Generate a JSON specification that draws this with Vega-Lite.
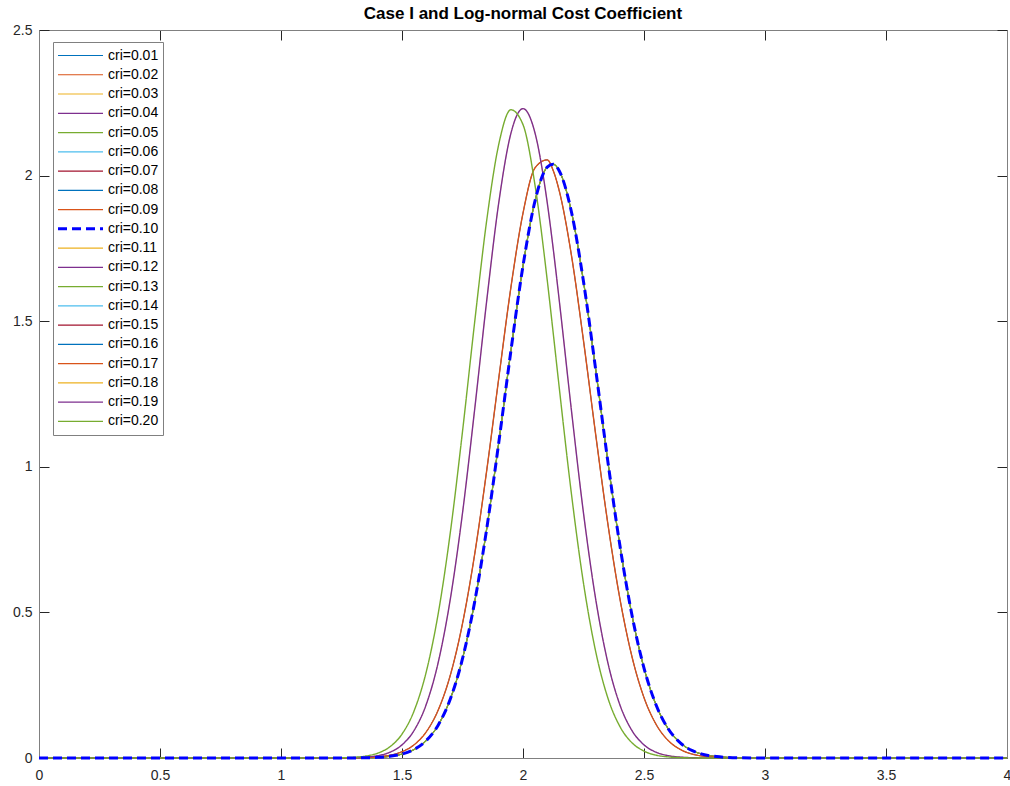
{
  "$schema": "https://vega.github.io/schema/vega-lite/v6.json",
  "width": 968,
  "height": 728,
  "autosize": {"type": "none"},
  "padding": {"left": 39, "top": 30, "right": 3, "bottom": 28},
  "background": "white",
  "title": {"text": "Case I and Log-normal Cost Coefficient", "fontSize": 17, "fontWeight": "bold", "font": "Liberation Sans", "color": "#000000", "anchor": "middle", "offset": 0},
  "data": {"values": [
    {"x":0,"c01":0,"c02":0,"c03":0,"c04":0,"c05":0,"c06":0,"c07":0,"c08":0,"c09":0,"c10":0,"c11":0,"c12":0,"c13":0,"c14":0,"c15":0,"c16":0,"c17":0,"c18":0,"c19":0,"c20":0},
    {"x":1.2,"c01":0,"c02":0,"c03":0,"c04":0,"c05":0,"c06":0,"c07":0,"c08":0,"c09":0,"c10":0,"c11":0,"c12":0,"c13":0,"c14":0.0001,"c15":0.0001,"c16":0.0001,"c17":0.0001,"c18":0.0001,"c19":0.0001,"c20":0.0003},
    {"x":1.25,"c01":0.0001,"c02":0.0001,"c03":0.0001,"c04":0.0001,"c05":0.0001,"c06":0.0001,"c07":0.0001,"c08":0.0001,"c09":0.0001,"c10":0.0001,"c11":0.0001,"c12":0.0001,"c13":0.0001,"c14":0.0002,"c15":0.0002,"c16":0.0002,"c17":0.0002,"c18":0.0003,"c19":0.0003,"c20":0.0009},
    {"x":1.3,"c01":0.0003,"c02":0.0003,"c03":0.0003,"c04":0.0003,"c05":0.0003,"c06":0.0003,"c07":0.0003,"c08":0.0003,"c09":0.0003,"c10":0.0003,"c11":0.0003,"c12":0.0003,"c13":0.0003,"c14":0.0006,"c15":0.0006,"c16":0.0006,"c17":0.0006,"c18":0.0011,"c19":0.0011,"c20":0.0025},
    {"x":1.35,"c01":0.0009,"c02":0.0009,"c03":0.0009,"c04":0.0009,"c05":0.0009,"c06":0.0009,"c07":0.0009,"c08":0.0009,"c09":0.0009,"c10":0.0009,"c11":0.0009,"c12":0.0009,"c13":0.0009,"c14":0.0015,"c15":0.0015,"c16":0.0015,"c17":0.0015,"c18":0.0031,"c19":0.0031,"c20":0.0067},
    {"x":1.4,"c01":0.0023,"c02":0.0023,"c03":0.0023,"c04":0.0023,"c05":0.0023,"c06":0.0023,"c07":0.0023,"c08":0.0023,"c09":0.0023,"c10":0.0023,"c11":0.0023,"c12":0.0023,"c13":0.0023,"c14":0.004,"c15":0.004,"c16":0.004,"c17":0.004,"c18":0.0081,"c19":0.0081,"c20":0.0167},
    {"x":1.45,"c01":0.0058,"c02":0.0058,"c03":0.0058,"c04":0.0058,"c05":0.0058,"c06":0.0058,"c07":0.0058,"c08":0.0058,"c09":0.0058,"c10":0.0058,"c11":0.0058,"c12":0.0058,"c13":0.0058,"c14":0.0096,"c15":0.0096,"c16":0.0096,"c17":0.0096,"c18":0.0198,"c19":0.0198,"c20":0.0385},
    {"x":1.5,"c01":0.0134,"c02":0.0134,"c03":0.0134,"c04":0.0134,"c05":0.0134,"c06":0.0134,"c07":0.0134,"c08":0.0134,"c09":0.0134,"c10":0.0134,"c11":0.0134,"c12":0.0134,"c13":0.0134,"c14":0.0216,"c15":0.0216,"c16":0.0216,"c17":0.0216,"c18":0.0451,"c19":0.0451,"c20":0.0821},
    {"x":1.55,"c01":0.0292,"c02":0.0292,"c03":0.0292,"c04":0.0292,"c05":0.0292,"c06":0.0292,"c07":0.0292,"c08":0.0292,"c09":0.0292,"c10":0.0292,"c11":0.0292,"c12":0.0292,"c13":0.0292,"c14":0.0454,"c15":0.0454,"c16":0.0454,"c17":0.0454,"c18":0.0946,"c19":0.0946,"c20":0.1619},
    {"x":1.6,"c01":0.0596,"c02":0.0596,"c03":0.0596,"c04":0.0596,"c05":0.0596,"c06":0.0596,"c07":0.0596,"c08":0.0596,"c09":0.0596,"c10":0.0596,"c11":0.0596,"c12":0.0596,"c13":0.0596,"c14":0.0896,"c15":0.0896,"c16":0.0896,"c17":0.0896,"c18":0.1835,"c19":0.1835,"c20":0.2951},
    {"x":1.65,"c01":0.1137,"c02":0.1137,"c03":0.1137,"c04":0.1137,"c05":0.1137,"c06":0.1137,"c07":0.1137,"c08":0.1137,"c09":0.1137,"c10":0.1137,"c11":0.1137,"c12":0.1137,"c13":0.1137,"c14":0.1654,"c15":0.1654,"c16":0.1654,"c17":0.1654,"c18":0.3296,"c19":0.3296,"c20":0.4977},
    {"x":1.7,"c01":0.2035,"c02":0.2035,"c03":0.2035,"c04":0.2035,"c05":0.2035,"c06":0.2035,"c07":0.2035,"c08":0.2035,"c09":0.2035,"c10":0.2035,"c11":0.2035,"c12":0.2035,"c13":0.2035,"c14":0.2855,"c15":0.2855,"c16":0.2855,"c17":0.2855,"c18":0.5475,"c19":0.5475,"c20":0.7765},
    {"x":1.75,"c01":0.341,"c02":0.341,"c03":0.341,"c04":0.341,"c05":0.341,"c06":0.341,"c07":0.341,"c08":0.341,"c09":0.341,"c10":0.341,"c11":0.341,"c12":0.341,"c13":0.341,"c14":0.4617,"c15":0.4617,"c16":0.4617,"c17":0.4617,"c18":0.841,"c19":0.841,"c20":1.121},
    {"x":1.8,"c01":0.535,"c02":0.535,"c03":0.535,"c04":0.535,"c05":0.535,"c06":0.535,"c07":0.535,"c08":0.535,"c09":0.535,"c10":0.535,"c11":0.535,"c12":0.535,"c13":0.535,"c14":0.698,"c15":0.698,"c16":0.698,"c17":0.698,"c18":1.195,"c19":1.195,"c20":1.495},
    {"x":1.85,"c01":0.787,"c02":0.787,"c03":0.787,"c04":0.787,"c05":0.787,"c06":0.787,"c07":0.787,"c08":0.787,"c09":0.787,"c10":0.787,"c11":0.787,"c12":0.787,"c13":0.787,"c14":0.987,"c15":0.987,"c16":0.987,"c17":0.987,"c18":1.57,"c19":1.57,"c20":1.846},
    {"x":1.9,"c01":1.084,"c02":1.084,"c03":1.084,"c04":1.084,"c05":1.084,"c06":1.084,"c07":1.084,"c08":1.084,"c09":1.084,"c10":1.084,"c11":1.084,"c12":1.084,"c13":1.084,"c14":1.305,"c15":1.305,"c16":1.305,"c17":1.305,"c18":1.908,"c19":1.908,"c20":2.108},
    {"x":1.95,"c01":1.398,"c02":1.398,"c03":1.398,"c04":1.398,"c05":1.398,"c06":1.398,"c07":1.398,"c08":1.398,"c09":1.398,"c10":1.398,"c11":1.398,"c12":1.398,"c13":1.398,"c14":1.616,"c15":1.616,"c16":1.616,"c17":1.616,"c18":2.145,"c19":2.145,"c20":2.226},
    {"x":2,"c01":1.69,"c02":1.69,"c03":1.69,"c04":1.69,"c05":1.69,"c06":1.69,"c07":1.69,"c08":1.69,"c09":1.69,"c10":1.69,"c11":1.69,"c12":1.69,"c13":1.69,"c14":1.871,"c15":1.871,"c16":1.871,"c17":1.871,"c18":2.23,"c19":2.23,"c20":2.175},
    {"x":2.05,"c01":1.914,"c02":1.914,"c03":1.914,"c04":1.914,"c05":1.914,"c06":1.914,"c07":1.914,"c08":1.914,"c09":1.914,"c10":1.914,"c11":1.914,"c12":1.914,"c13":1.914,"c14":2.027,"c15":2.027,"c16":2.027,"c17":2.027,"c18":2.145,"c19":2.145,"c20":1.965},
    {"x":2.1,"c01":2.029,"c02":2.029,"c03":2.029,"c04":2.029,"c05":2.029,"c06":2.029,"c07":2.029,"c08":2.029,"c09":2.029,"c10":2.029,"c11":2.029,"c12":2.029,"c13":2.029,"c14":2.054,"c15":2.054,"c16":2.054,"c17":2.054,"c18":1.908,"c19":1.908,"c20":1.642},
    {"x":2.125,"c01":2.039,"c02":2.039,"c03":2.039,"c04":2.039,"c05":2.039,"c06":2.039,"c07":2.039,"c08":2.039,"c09":2.039,"c10":2.039,"c11":2.039,"c12":2.039,"c13":2.039,"c14":2.017,"c15":2.017,"c16":2.017,"c17":2.017,"c18":1.748,"c19":1.748,"c20":1.458},
    {"x":2.15,"c01":2.016,"c02":2.016,"c03":2.016,"c04":2.016,"c05":2.016,"c06":2.016,"c07":2.016,"c08":2.016,"c09":2.016,"c10":2.016,"c11":2.016,"c12":2.016,"c13":2.016,"c14":1.947,"c15":1.947,"c16":1.947,"c17":1.947,"c18":1.57,"c19":1.57,"c20":1.27},
    {"x":2.2,"c01":1.876,"c02":1.876,"c03":1.876,"c04":1.876,"c05":1.876,"c06":1.876,"c07":1.876,"c08":1.876,"c09":1.876,"c10":1.876,"c11":1.876,"c12":1.876,"c13":1.876,"c14":1.727,"c15":1.727,"c16":1.727,"c17":1.727,"c18":1.195,"c19":1.195,"c20":0.908},
    {"x":2.25,"c01":1.636,"c02":1.636,"c03":1.636,"c04":1.636,"c05":1.636,"c06":1.636,"c07":1.636,"c08":1.636,"c09":1.636,"c10":1.636,"c11":1.636,"c12":1.636,"c13":1.636,"c14":1.433,"c15":1.433,"c16":1.433,"c17":1.433,"c18":0.841,"c19":0.841,"c20":0.6},
    {"x":2.3,"c01":1.336,"c02":1.336,"c03":1.336,"c04":1.336,"c05":1.336,"c06":1.336,"c07":1.336,"c08":1.336,"c09":1.336,"c10":1.336,"c11":1.336,"c12":1.336,"c13":1.336,"c14":1.113,"c15":1.113,"c16":1.113,"c17":1.113,"c18":0.5475,"c19":0.5475,"c20":0.367},
    {"x":2.35,"c01":1.022,"c02":1.022,"c03":1.022,"c04":1.022,"c05":1.022,"c06":1.022,"c07":1.022,"c08":1.022,"c09":1.022,"c10":1.022,"c11":1.022,"c12":1.022,"c13":1.022,"c14":0.808,"c15":0.808,"c16":0.808,"c17":0.808,"c18":0.3296,"c19":0.3296,"c20":0.2078},
    {"x":2.4,"c01":0.732,"c02":0.732,"c03":0.732,"c04":0.732,"c05":0.732,"c06":0.732,"c07":0.732,"c08":0.732,"c09":0.732,"c10":0.732,"c11":0.732,"c12":0.732,"c13":0.732,"c14":0.549,"c15":0.549,"c16":0.549,"c17":0.549,"c18":0.1835,"c19":0.1835,"c20":0.1087},
    {"x":2.45,"c01":0.492,"c02":0.492,"c03":0.492,"c04":0.492,"c05":0.492,"c06":0.492,"c07":0.492,"c08":0.492,"c09":0.492,"c10":0.492,"c11":0.492,"c12":0.492,"c13":0.492,"c14":0.349,"c15":0.349,"c16":0.349,"c17":0.349,"c18":0.0946,"c19":0.0946,"c20":0.0526},
    {"x":2.5,"c01":0.309,"c02":0.309,"c03":0.309,"c04":0.309,"c05":0.309,"c06":0.309,"c07":0.309,"c08":0.309,"c09":0.309,"c10":0.309,"c11":0.309,"c12":0.309,"c13":0.309,"c14":0.2075,"c15":0.2075,"c16":0.2075,"c17":0.2075,"c18":0.0451,"c19":0.0451,"c20":0.0236},
    {"x":2.55,"c01":0.182,"c02":0.182,"c03":0.182,"c04":0.182,"c05":0.182,"c06":0.182,"c07":0.182,"c08":0.182,"c09":0.182,"c10":0.182,"c11":0.182,"c12":0.182,"c13":0.182,"c14":0.1155,"c15":0.1155,"c16":0.1155,"c17":0.1155,"c18":0.0198,"c19":0.0198,"c20":0.0097},
    {"x":2.6,"c01":0.1004,"c02":0.1004,"c03":0.1004,"c04":0.1004,"c05":0.1004,"c06":0.1004,"c07":0.1004,"c08":0.1004,"c09":0.1004,"c10":0.1004,"c11":0.1004,"c12":0.1004,"c13":0.1004,"c14":0.0601,"c15":0.0601,"c16":0.0601,"c17":0.0601,"c18":0.0081,"c19":0.0081,"c20":0.0037},
    {"x":2.65,"c01":0.0519,"c02":0.0519,"c03":0.0519,"c04":0.0519,"c05":0.0519,"c06":0.0519,"c07":0.0519,"c08":0.0519,"c09":0.0519,"c10":0.0519,"c11":0.0519,"c12":0.0519,"c13":0.0519,"c14":0.0293,"c15":0.0293,"c16":0.0293,"c17":0.0293,"c18":0.0031,"c19":0.0031,"c20":0.0013},
    {"x":2.7,"c01":0.0251,"c02":0.0251,"c03":0.0251,"c04":0.0251,"c05":0.0251,"c06":0.0251,"c07":0.0251,"c08":0.0251,"c09":0.0251,"c10":0.0251,"c11":0.0251,"c12":0.0251,"c13":0.0251,"c14":0.0133,"c15":0.0133,"c16":0.0133,"c17":0.0133,"c18":0.0011,"c19":0.0011,"c20":0.0004},
    {"x":2.75,"c01":0.0114,"c02":0.0114,"c03":0.0114,"c04":0.0114,"c05":0.0114,"c06":0.0114,"c07":0.0114,"c08":0.0114,"c09":0.0114,"c10":0.0114,"c11":0.0114,"c12":0.0114,"c13":0.0114,"c14":0.0057,"c15":0.0057,"c16":0.0057,"c17":0.0057,"c18":0.0003,"c19":0.0003,"c20":0.0001},
    {"x":2.8,"c01":0.0048,"c02":0.0048,"c03":0.0048,"c04":0.0048,"c05":0.0048,"c06":0.0048,"c07":0.0048,"c08":0.0048,"c09":0.0048,"c10":0.0048,"c11":0.0048,"c12":0.0048,"c13":0.0048,"c14":0.0023,"c15":0.0023,"c16":0.0023,"c17":0.0023,"c18":0.0001,"c19":0.0001,"c20":0},
    {"x":2.85,"c01":0.0019,"c02":0.0019,"c03":0.0019,"c04":0.0019,"c05":0.0019,"c06":0.0019,"c07":0.0019,"c08":0.0019,"c09":0.0019,"c10":0.0019,"c11":0.0019,"c12":0.0019,"c13":0.0019,"c14":0.0008,"c15":0.0008,"c16":0.0008,"c17":0.0008,"c18":0,"c19":0,"c20":0},
    {"x":2.9,"c01":0.0007,"c02":0.0007,"c03":0.0007,"c04":0.0007,"c05":0.0007,"c06":0.0007,"c07":0.0007,"c08":0.0007,"c09":0.0007,"c10":0.0007,"c11":0.0007,"c12":0.0007,"c13":0.0007,"c14":0.0003,"c15":0.0003,"c16":0.0003,"c17":0.0003,"c18":0,"c19":0,"c20":0},
    {"x":2.95,"c01":0.0003,"c02":0.0003,"c03":0.0003,"c04":0.0003,"c05":0.0003,"c06":0.0003,"c07":0.0003,"c08":0.0003,"c09":0.0003,"c10":0.0003,"c11":0.0003,"c12":0.0003,"c13":0.0003,"c14":0.0001,"c15":0.0001,"c16":0.0001,"c17":0.0001,"c18":0,"c19":0,"c20":0},
    {"x":3,"c01":0.0001,"c02":0.0001,"c03":0.0001,"c04":0.0001,"c05":0.0001,"c06":0.0001,"c07":0.0001,"c08":0.0001,"c09":0.0001,"c10":0.0001,"c11":0.0001,"c12":0.0001,"c13":0.0001,"c14":0,"c15":0,"c16":0,"c17":0,"c18":0,"c19":0,"c20":0},
    {"x":4,"c01":0,"c02":0,"c03":0,"c04":0,"c05":0,"c06":0,"c07":0,"c08":0,"c09":0,"c10":0,"c11":0,"c12":0,"c13":0,"c14":0,"c15":0,"c16":0,"c17":0,"c18":0,"c19":0,"c20":0}
  ]},
  "transform": [
    {"fold": ["c01","c02","c03","c04","c05","c06","c07","c08","c09","c10","c11","c12","c13","c14","c15","c16","c17","c18","c19","c20"], "as": ["cri", "y"]}
  ],
  "layer": [
    {
      "transform": [{"filter": "indexof(['c10','c13','c17','c19','c20'], datum.cri) < 0"}],
      "mark": {"type": "line", "interpolate": "monotone", "strokeCap": "butt", "strokeWidth": 0.5},
      "encoding": {
        "x": {"field": "x", "type": "quantitative", "scale": {"domain": [0, 4], "nice": false, "zero": false},
              "axis": {"orient": "bottom", "values": [0,0.5,1,1.5,2,2.5,3,3.5,4], "format": "~g", "labelFlush": false, "labelPadding": 20, "title": null}},
        "y": {"field": "y", "type": "quantitative", "scale": {"domain": [0, 2.5], "nice": false},
              "axis": {"orient": "left", "values": [0,0.5,1,1.5,2,2.5], "format": "~g", "labelFlush": false, "labelPadding": 17, "title": null}},
        "color": {"field": "cri", "type": "nominal",
          "scale": {"domain": ["c01","c02","c03","c04","c05","c06","c07","c08","c09","c10","c11","c12","c13","c14","c15","c16","c17","c18","c19","c20"],
                    "range": ["#0072BD","#D95319","#EDB120","#7E2F8E","#77AC30","#4DBEEE","#A2142F","#0072BD","#D95319","#0000FF","#EDB120","#7E2F8E","#77AC30","#4DBEEE","#A2142F","#0072BD","#D95319","#EDB120","#7E2F8E","#77AC30"]},
          "legend": {"title": null, "labelExpr": "'cri=0.' + slice(datum.label, 1)", "orient": "none", "legendX": 14, "legendY": 12,
                     "encode": {"symbols": {"update": {"strokeWidth": {"signal": "(datum.value == 'c10' ? 3 : 1.2)"}}}}}},
        "strokeDash": {"field": "cri", "type": "nominal",
          "scale": {"domain": ["c01","c02","c03","c04","c05","c06","c07","c08","c09","c10","c11","c12","c13","c14","c15","c16","c17","c18","c19","c20"],
                    "range": [[1,0],[1,0],[1,0],[1,0],[1,0],[1,0],[1,0],[1,0],[1,0],[9,5],[1,0],[1,0],[1,0],[1,0],[1,0],[1,0],[1,0],[1,0],[1,0],[1,0]]},
          "legend": {"title": null, "labelExpr": "'cri=0.' + slice(datum.label, 1)", "orient": "none", "legendX": 14, "legendY": 12}}
      }
    },
    {
      "transform": [{"filter": "indexof(['c13','c17','c19','c20'], datum.cri) >= 0"}],
      "mark": {"type": "line", "interpolate": "monotone", "strokeCap": "butt", "strokeWidth": 1.4},
      "encoding": {
        "x": {"field": "x", "type": "quantitative", "axis": null},
        "y": {"field": "y", "type": "quantitative", "axis": null},
        "color": {"field": "cri", "type": "nominal", "legend": null},
        "strokeDash": {"field": "cri", "type": "nominal", "legend": null}
      }
    },
    {
      "transform": [{"filter": "datum.cri == 'c10'"}],
      "mark": {"type": "line", "interpolate": "monotone", "strokeCap": "butt", "strokeWidth": 3},
      "encoding": {
        "x": {"field": "x", "type": "quantitative", "axis": {"orient": "top", "values": [0,0.5,1,1.5,2,2.5,3,3.5,4], "labels": false, "title": null}},
        "y": {"field": "y", "type": "quantitative", "axis": {"orient": "right", "values": [0,0.5,1,1.5,2,2.5], "labels": false, "title": null}},
        "color": {"field": "cri", "type": "nominal", "legend": null},
        "strokeDash": {"field": "cri", "type": "nominal", "legend": null}
      }
    }
  ],
  "resolve": {"axis": {"x": "independent", "y": "independent"}},
  "config": {
    "view": {"stroke": null},
    "font": "Liberation Sans",
    "axis": {"grid": false, "domainColor": "#808080", "domainWidth": 1, "tickColor": "#262626", "tickSize": -10, "tickWidth": 1, "labelFontSize": 14, "labelColor": "#262626", "labelFont": "Liberation Sans"},
    "legend": {"symbolType": "stroke", "symbolSize": 2025, "symbolOpacity": 1, "symbolStrokeWidth": 1.2, "labelFontSize": 14, "labelFont": "Liberation Sans", "labelColor": "#000000", "labelOffset": 4, "padding": 4, "rowPadding": 0.26, "clipHeight": 19, "strokeColor": "#808080", "fillColor": "white"}
  }
}
